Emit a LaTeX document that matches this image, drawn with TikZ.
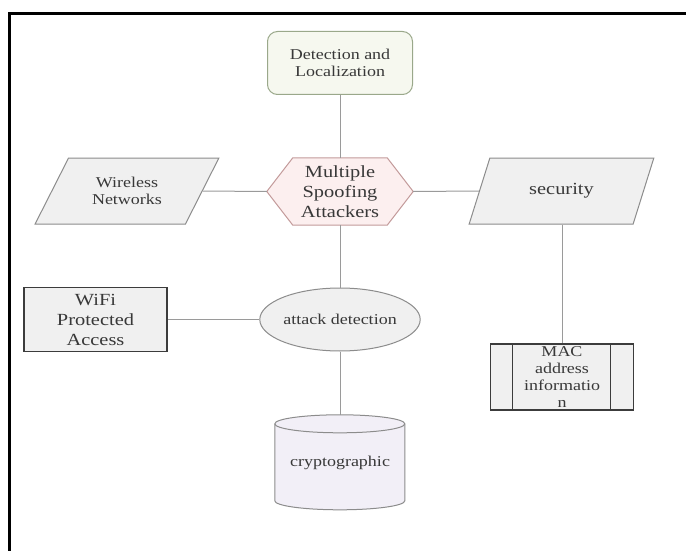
\documentclass[tikz,border=0pt]{standalone}
\usepackage{fontspec}
\setmainfont{Liberation Serif}[FakeStretch=1.2]
\usetikzlibrary{shapes.geometric,backgrounds}
\definecolor{detfill}{HTML}{F6F8EF}
\definecolor{detdraw}{HTML}{9AA88A}
\definecolor{hexfill}{HTML}{FCEFEF}
\definecolor{hexdraw}{HTML}{C39A9A}
\definecolor{gfill}{HTML}{F0F0F0}
\definecolor{gdraw}{HTML}{8C8C8C}
\definecolor{dkdraw}{HTML}{3C3C3C}
\definecolor{cylfill}{HTML}{F2EFF7}
\definecolor{linec}{HTML}{9A9A9A}
\definecolor{txt}{HTML}{383838}
\tikzset{
  lbl/.style={align=center, text=txt, inner sep=0pt, font=\fontsize{15}{17}\selectfont},
  big/.style={font=\fontsize{17}{20}\selectfont},
  conn/.style={draw=linec, line width=1pt},
  para/.style={trapezium, trapezium stretches=true, fill=gfill, draw=gdraw, line width=1pt},
}
\begin{document}
\begin{tikzpicture}[x=1pt,y=-1pt]
\useasboundingbox (0,0) rectangle (686,551);
\begin{pgfonlayer}{background}
\fill[white] (0,0) rectangle (686,551);
\end{pgfonlayer}
\draw[line width=3pt] (9.5,551) -- (9.5,13.5) -- (686,13.5);

% Detection and Localization
\node[lbl, rounded corners=10pt, fill=detfill, draw=detdraw, line width=1pt,
      minimum width=145, minimum height=63] (det) at (340,63) {Detection and\\Localization};

% Multiple Spoofing Attackers (hexagon)
\node[lbl, big, minimum width=146, minimum height=67] (hex) at (340,191.5) {Multiple\\Spoofing\\Attackers};
\begin{pgfonlayer}{background}
\filldraw[fill=hexfill, draw=hexdraw, line width=1pt]
  (hex.west) -- ([xshift=26pt]hex.north west) -- ([xshift=-26pt]hex.north east)
  -- (hex.east) -- ([xshift=-26pt]hex.south east) -- ([xshift=26pt]hex.south west) -- cycle;
\end{pgfonlayer}

% Wireless Networks
\node[lbl, para, trapezium left angle=54, trapezium right angle=126,
      minimum width=184, minimum height=66] (wn) at (127,191) {Wireless\\Networks};

% security
\node[lbl, big, para, trapezium left angle=58, trapezium right angle=122,
      minimum width=185, minimum height=66] (sec) at (561.5,191) {security};

% attack detection
\node[lbl, ellipse, fill=gfill, draw=gdraw, line width=1pt,
      minimum width=143, minimum height=63] (att) at (340,319.5) {attack detection};

% WiFi Protected Access
\node[lbl, big, fill=gfill, draw=dkdraw, line width=1.8pt,
      minimum width=143, minimum height=64] (wifi) at (95.5,319.5) {WiFi\\Protected\\Access};

% MAC address information (predefined process)
\node[lbl, fill=gfill, draw=dkdraw, line width=1.6pt, text width=95,
      minimum width=143, minimum height=66] (mac) at (562,377) {MAC\\address\\informatio\\n};
\draw[dkdraw, line width=1.4pt] ([xshift=23pt]mac.north west) -- ([xshift=23pt]mac.south west);
\draw[dkdraw, line width=1.4pt] ([xshift=-24pt]mac.north east) -- ([xshift=-24pt]mac.south east);

% cryptographic (cylinder)
\node[lbl, minimum width=130, minimum height=95] (cry) at (340,462.5) {cryptographic};
\begin{pgfonlayer}{background}
\filldraw[fill=cylfill, draw=gdraw, line width=1pt]
  (cry.north west) ++(0,9) -- ++(0,77) arc[start angle=180, end angle=360, x radius=65, y radius=-9]
  -- ++(0,-77) arc[start angle=0, end angle=180, x radius=65, y radius=-9] -- cycle;
\draw[gdraw, line width=1pt] (cry.north west) ++(0,9)
  arc[start angle=180, end angle=360, x radius=65, y radius=-9];
\end{pgfonlayer}

% connectors
\draw[conn] (det.south) -- (hex.north);
\draw[conn] (wn.east) -- (hex.west);
\draw[conn] (hex.east) -- (sec.west);
\draw[conn] (hex.south) -- (att.north);
\draw[conn] (wifi.east) -- (att.west);
\draw[conn] (att.south) -- (cry.north);
\draw[conn] (mac.north |- sec.south) -- (mac.north);
\end{tikzpicture}
\end{document}
